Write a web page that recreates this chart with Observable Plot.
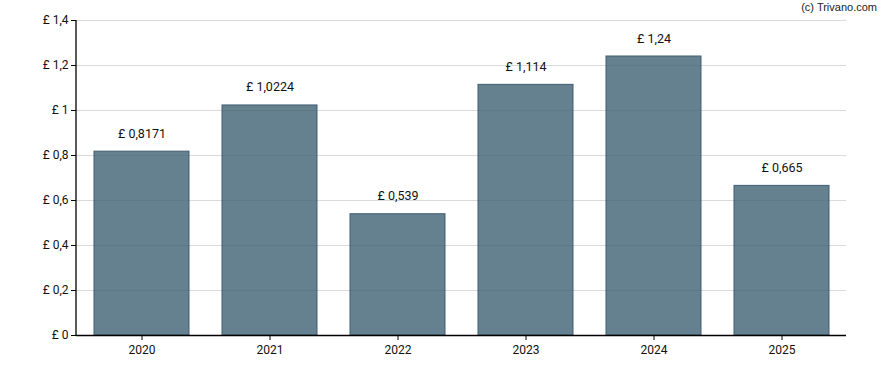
<!DOCTYPE html>
<html><head><meta charset="utf-8">
<script src="https://cdn.jsdelivr.net/npm/d3@7"></script>
<script src="https://cdn.jsdelivr.net/npm/@observablehq/plot@0.6"></script>
<style>
body{margin:0;background:#fff;}
#wrap{position:relative;width:888px;height:370px;font-family:Roboto,sans-serif;}
#credit{position:absolute;right:11px;top:1px;font-size:11px;color:#222;font-family:Arial,"Liberation Sans",sans-serif;}
</style></head>
<body><div id="wrap"><div id="credit">(c) Trivano.com</div></div>
<script>
const years = ["2020","2021","2022","2023","2024","2025"];
const values = [0.8171, 1.0224, 0.539, 1.114, 1.24, 0.665];
const labels = ["£ 0,8171","£ 1,0224","£ 0,539","£ 1,114","£ 1,24","£ 0,665"];
const yTicks = [0, 0.2, 0.4, 0.6, 0.8, 1, 1.2, 1.4];

const data = years.map((y, i) => ({year: y, value: values[i], label: labels[i]}));
const fmt = v => "£ " + String(v).replace(".", ",");

const leftAxisLine = (index, scales, values, dims) => {
  const l = document.createElementNS("http://www.w3.org/2000/svg", "line");
  const x = dims.marginLeft;
  l.setAttribute("x1", x); l.setAttribute("x2", x);
  l.setAttribute("y1", dims.marginTop); l.setAttribute("y2", dims.height - dims.marginBottom);
  l.setAttribute("stroke", "#000"); l.setAttribute("stroke-width", "1.3");
  return l;
};

const chart = Plot.plot({
  width: 888, height: 370,
  marginLeft: 76, marginRight: 42, marginTop: 20, marginBottom: 35,
  style: {fontFamily: "Roboto, sans-serif", fontSize: "12px", color: "#111", background: "#fff"},
  x: {domain: years, paddingInner: 0.26, paddingOuter: 0.13, align: 0.5, label: null},
  y: {domain: [0, 1.4], ticks: yTicks, tickFormat: fmt, label: null},
  marks: [
    Plot.ruleY(yTicks.slice(1), {stroke: "#e6e6e6", strokeWidth: 1}),
    Plot.barY(data, {x: "year", y: "value", fill: "#65808f", stroke: "#3f5e72", strokeWidth: 1}),
    Plot.ruleY(yTicks.slice(1), {stroke: "#000", strokeOpacity: 0.05, strokeWidth: 1}),
    Plot.text(data, {x: "year", y: "value", text: "label", dy: -18, fill: "#111", fontSize: 12.5}),
    Plot.axisX({tickSize: 5, tickPadding: 5, fontSize: 12, stroke: "#000"}),
    Plot.axisY({ticks: yTicks, tickFormat: fmt, tickSize: 5, tickPadding: 3, fontSize: 12, stroke: "#000"}),
    Plot.ruleY([0], {stroke: "#000", strokeWidth: 1.3}),
    leftAxisLine,
  ]
});
chart.style.display = "block";
document.getElementById("wrap").appendChild(chart);
</script>
</body></html>
